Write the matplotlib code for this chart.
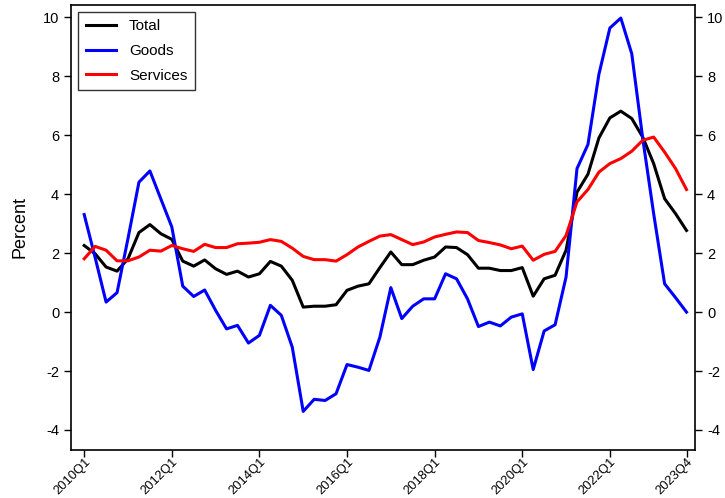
import matplotlib
matplotlib.use("Agg")
import matplotlib.pyplot as plt

plt.rcParams['font.family'] = ['Liberation Sans', 'DejaVu Sans']

quarters = [f"{y}Q{q}" for y in range(2010, 2024) for q in range(1, 5)]

total = [2.26, 1.98, 1.53, 1.39, 1.81, 2.70, 2.97, 2.66, 2.47, 1.73, 1.56, 1.77,
         1.47, 1.28, 1.39, 1.19, 1.30, 1.72, 1.56, 1.08, 0.17, 0.20, 0.20, 0.25,
         0.74, 0.88, 0.96, 1.51, 2.04, 1.61, 1.61, 1.76, 1.87, 2.21, 2.19, 1.95,
         1.49, 1.49, 1.41, 1.41, 1.51, 0.54, 1.13, 1.25, 2.10, 4.07, 4.68, 5.91,
         6.59, 6.82, 6.57, 5.94, 5.04, 3.85, 3.34, 2.77]
goods = [3.31, 1.85, 0.34, 0.66, 2.50, 4.41, 4.79, 3.84, 2.89, 0.88, 0.53, 0.75,
         0.06, -0.57, -0.45, -1.05, -0.79, 0.23, -0.11, -1.19, -3.37, -2.96, -3.00, -2.77,
         -1.78, -1.87, -1.98, -0.85, 0.83, -0.22, 0.20, 0.45, 0.45, 1.30, 1.13, 0.45,
         -0.49, -0.34, -0.47, -0.17, -0.06, -1.95, -0.64, -0.43, 1.19, 4.87, 5.69, 8.07,
         9.64, 9.98, 8.77, 5.90, 3.34, 0.96, 0.49, 0.00]
services = [1.81, 2.23, 2.10, 1.74, 1.74, 1.87, 2.10, 2.07, 2.26, 2.15, 2.06, 2.30,
            2.19, 2.19, 2.32, 2.34, 2.37, 2.46, 2.40, 2.17, 1.89, 1.78, 1.78, 1.73,
            1.95, 2.21, 2.40, 2.58, 2.63, 2.46, 2.29, 2.38, 2.55, 2.64, 2.72, 2.70,
            2.43, 2.36, 2.28, 2.15, 2.24, 1.76, 1.96, 2.06, 2.60, 3.74, 4.16, 4.75,
            5.04, 5.21, 5.46, 5.83, 5.94, 5.43, 4.87, 4.16]

tick_labels = ["2010Q1", "2012Q1", "2014Q1", "2016Q1", "2018Q1", "2020Q1", "2022Q1", "2023Q4"]
y_ticks = [-4, -2, 0, 2, 4, 6, 8, 10]

x = list(range(len(quarters)))

fig = plt.figure(figsize=(7.25, 4.98), dpi=100)
ax = fig.add_axes([0.098, 0.0964, 0.861, 0.894])

ax.plot(x, total, color="black", lw=2.2, label="Total")
ax.plot(x, goods, color="#0000ff", lw=2.2, label="Goods")
ax.plot(x, services, color="#ff0000", lw=2.2, label="Services")

ax.set_xlim(-1.2, 55.8)
ax.set_ylim(-4.68, 10.43)
ax.set_yticks(y_ticks)
ax.set_yticklabels([str(v) for v in y_ticks])
ax.tick_params(axis="y", which="both", left=True, right=True, labelleft=True,
               labelright=True, direction="out", length=5, width=1, labelsize=10.5)
ax.set_xticks([quarters.index(t) for t in tick_labels])
ax.set_xticklabels(tick_labels, rotation=45, ha="right", va="top",
                   rotation_mode="anchor")
ax.tick_params(axis="x", direction="out", length=5, width=1, labelsize=9.3, pad=-0.5)

for s in ax.spines.values():
    s.set_linewidth(1.2)

ax.set_ylabel("Percent", fontsize=13, labelpad=10)

leg = ax.legend(loc="upper left", fontsize=11, frameon=True, fancybox=False,
                edgecolor="black", handlelength=2.0, handletextpad=0.85,
                borderpad=0.5, labelspacing=0.7, borderaxespad=0.45)
leg.get_frame().set_linewidth(1.0)

fig.savefig("out.png", dpi=100)
